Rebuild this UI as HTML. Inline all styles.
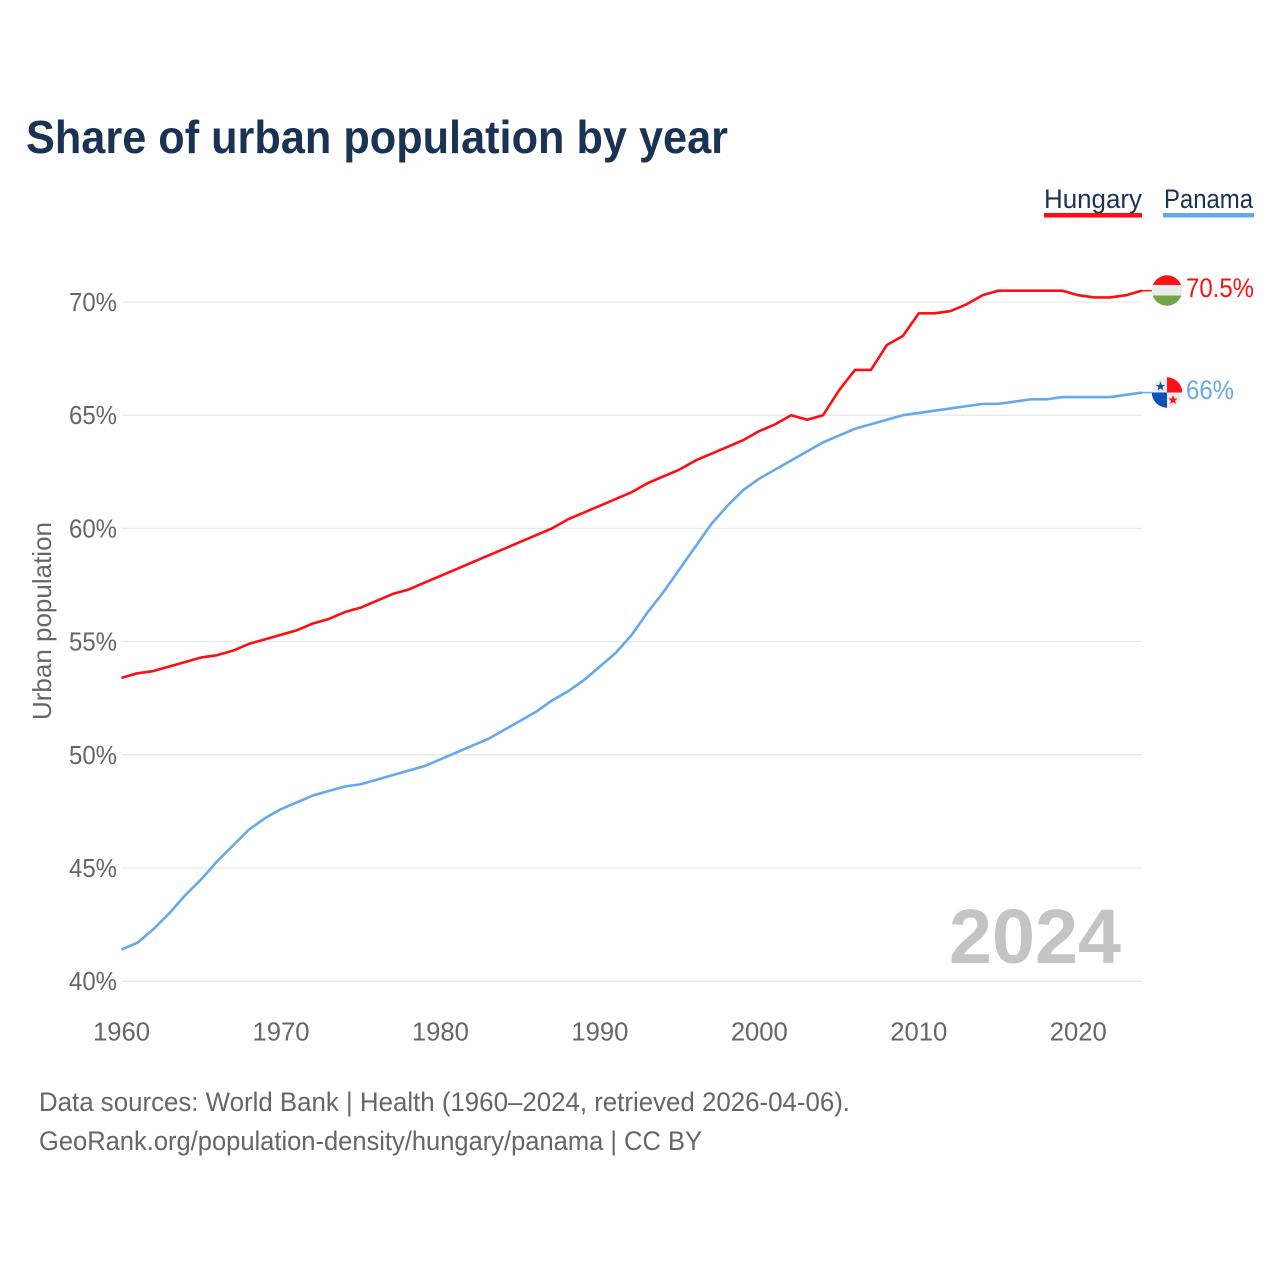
<!DOCTYPE html>
<html lang="en">
<head>
<meta charset="utf-8">
<title>Share of urban population by year</title>
<style>
html,body{margin:0;padding:0;background:#fff;width:1280px;height:1280px;overflow:hidden}
svg{display:block}
text{font-family:"Liberation Sans",sans-serif}
</style>
</head>
<body>
<svg id="chart" xmlns="http://www.w3.org/2000/svg" width="1280" height="1280" viewBox="0 0 1280 1280">
  <defs>
    <clipPath id="flag-clip-hu"><circle cx="1167" cy="290.5" r="15.2"/></clipPath>
    <clipPath id="flag-clip-pa"><circle cx="1167" cy="392.5" r="15.2"/></clipPath>
  </defs>
  <text x="26" y="153" font-size="46" font-weight="700" fill="#1a3355" textLength="702" lengthAdjust="spacingAndGlyphs">Share of urban population by year</text>

  <g>
    <g>
      <text x="1044" y="208" font-size="27" fill="#1a3355" textLength="98" lengthAdjust="spacingAndGlyphs">Hungary</text>
      <rect x="1044" y="213" width="98" height="4.5" fill="#ff0d12"/>
    </g>
    <g>
      <text x="1164" y="208" font-size="27" fill="#1a3355" textLength="89" lengthAdjust="spacingAndGlyphs">Panama</text>
      <rect x="1163" y="213" width="91" height="4.5" fill="#66a8ec"/>
    </g>
  </g>

  <g id="grid"></g>
  <g id="y-axis"></g>
  <g id="x-axis"></g>
  <text transform="translate(51,621) rotate(-90)" text-anchor="middle" font-size="26" fill="#666" textLength="198" lengthAdjust="spacingAndGlyphs">Urban population</text>

  <text x="949" y="963" font-size="77" font-weight="700" fill="#c4c4c4" textLength="172" lengthAdjust="spacingAndGlyphs">2024</text>

  <g id="series"></g>

  <g clip-path="url(#flag-clip-hu)">
    <rect x="1150" y="274" width="34" height="11" fill="#ff1216"/>
    <rect x="1150" y="285" width="34" height="10.5" fill="#ebebeb"/>
    <rect x="1150" y="295.5" width="34" height="12.5" fill="#70a646"/>
  </g>
  <g clip-path="url(#flag-clip-pa)">
    <rect x="1150" y="376" width="34" height="34" fill="#ebebeb"/>
    <rect x="1167" y="376" width="17" height="16.5" fill="#ff1216"/>
    <rect x="1150" y="392.5" width="17" height="17" fill="#0a52b5"/>
    <polygon points="1160.5,381.5 1161.8,385 1165.3,385 1162.5,387.1 1163.5,390.5 1160.5,388.5 1157.5,390.5 1158.5,387.1 1155.7,385 1159.2,385" fill="#0a52b5"/>
    <polygon points="1173,395 1174.3,398.5 1177.8,398.5 1175,400.6 1176,404 1173,402 1170,404 1171,400.6 1168.2,398.5 1171.7,398.5" fill="#ff1216"/>
  </g>

  <text x="1186" y="297" font-size="27" fill="#ff0d12" textLength="68" lengthAdjust="spacingAndGlyphs">70.5%</text>
  <text x="1186" y="399" font-size="27" fill="#66a8ec" textLength="48" lengthAdjust="spacingAndGlyphs">66%</text>

  <text x="39" y="1111" font-size="27" fill="#666" textLength="811" lengthAdjust="spacingAndGlyphs">Data sources: World Bank | Health (1960–2024, retrieved 2026-04-06).</text>
  <text x="39" y="1150" font-size="27" fill="#666" textLength="663" lengthAdjust="spacingAndGlyphs">GeoRank.org/population-density/hungary/panama | CC BY</text>
</svg>
<script>
const years = [1960,1961,1962,1963,1964,1965,1966,1967,1968,1969,1970,1971,1972,1973,1974,1975,1976,1977,1978,1979,1980,1981,1982,1983,1984,1985,1986,1987,1988,1989,1990,1991,1992,1993,1994,1995,1996,1997,1998,1999,2000,2001,2002,2003,2004,2005,2006,2007,2008,2009,2010,2011,2012,2013,2014,2015,2016,2017,2018,2019,2020,2021,2022,2023,2024];
const hungaryValues = [53.4,53.6,53.7,53.9,54.1,54.3,54.4,54.6,54.9,55.1,55.3,55.5,55.8,56.0,56.3,56.5,56.8,57.1,57.3,57.6,57.9,58.2,58.5,58.8,59.1,59.4,59.7,60.0,60.4,60.7,61.0,61.3,61.6,62.0,62.3,62.6,63.0,63.3,63.6,63.9,64.3,64.6,65.0,64.8,65.0,66.1,67.0,67.0,68.1,68.5,69.5,69.5,69.6,69.9,70.3,70.5,70.5,70.5,70.5,70.5,70.3,70.2,70.2,70.3,70.5];
const panamaValues = [41.4,41.7,42.3,43.0,43.8,44.5,45.3,46.0,46.7,47.2,47.6,47.9,48.2,48.4,48.6,48.7,48.9,49.1,49.3,49.5,49.8,50.1,50.4,50.7,51.1,51.5,51.9,52.4,52.8,53.3,53.9,54.5,55.3,56.3,57.2,58.2,59.2,60.2,61.0,61.7,62.2,62.6,63.0,63.4,63.8,64.1,64.4,64.6,64.8,65.0,65.1,65.2,65.3,65.4,65.5,65.5,65.6,65.7,65.7,65.8,65.8,65.8,65.8,65.9,66.0];
const yTicks = [40,45,50,55,60,65,70];
const xTicks = [1960,1970,1980,1990,2000,2010,2020];

const NS = 'http://www.w3.org/2000/svg';
const xScale = v => 121.5 + (v - 1960) * (1142 - 121.5) / 64;
const yScale = v => 981.2 - (v - 40) * 22.64;

function make(tag, attrs, parent, content) {
  const el = document.createElementNS(NS, tag);
  for (const k in attrs) el.setAttribute(k, attrs[k]);
  if (content !== undefined) el.textContent = content;
  parent.appendChild(el);
  return el;
}

const gridGroup = document.getElementById('grid');
const yGroup = document.getElementById('y-axis');
const xGroup = document.getElementById('x-axis');
const seriesGroup = document.getElementById('series');

yTicks.forEach(t => {
  const line = make('line', {x1: 121.5, x2: 1142, y1: yScale(t), y2: yScale(t), stroke: '#e9e9e9', 'stroke-width': 1.3}, gridGroup);
  
  
  const label = make('text', {x: 117, y: yScale(t) + 9, 'text-anchor': 'end', 'font-size': 26, fill: '#666', textLength: 48, lengthAdjust: 'spacingAndGlyphs'}, yGroup, t + '%');
  
  
});

xTicks.forEach(t => {
  const label = make('text', {x: xScale(t), y: 1040.5, 'text-anchor': 'middle', 'font-size': 26, fill: '#666', textLength: 57, lengthAdjust: 'spacingAndGlyphs'}, xGroup, String(t));
  
  
});

function drawSeries(values, color) {
  const pts = values.map((v, i) => xScale(years[i]).toFixed(2) + ',' + yScale(v).toFixed(2));
  return make('polyline', {points: pts.join(' '), fill: 'none', stroke: color, 'stroke-width': 2.6, 'stroke-linejoin': 'round'}, seriesGroup);
}

function drawConnector(values, color) {
  const endX = xScale(years[years.length - 1]);
  const endY = yScale(values[values.length - 1]);
  return make('line', {x1: endX, x2: endX + 10, y1: endY, y2: endY, stroke: color, 'stroke-width': 1.5}, seriesGroup);
}

const hungaryLine = drawSeries(hungaryValues, '#ff0d12');


const panamaLine = drawSeries(panamaValues, '#66a8ec');


const hungaryConnector = drawConnector(hungaryValues, '#ff0d12');


const panamaConnector = drawConnector(panamaValues, '#66a8ec');


</script>
</body>
</html>
